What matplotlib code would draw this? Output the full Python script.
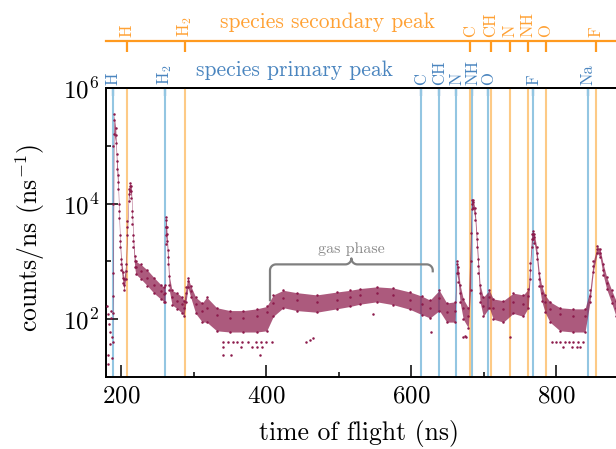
import numpy as np
import matplotlib
matplotlib.use("Agg")
import matplotlib.pyplot as plt
from matplotlib.ticker import FixedLocator, FuncFormatter, NullFormatter
from matplotlib.lines import Line2D

plt.rcParams['font.family'] = ['cmr10', 'DejaVu Serif']
plt.rcParams['mathtext.fontset'] = 'cm'
plt.rcParams['axes.formatter.use_mathtext'] = True
plt.rcParams['axes.unicode_minus'] = False

# ---------------- data ----------------
tof = [188.5, 189.5, 190.3, 192.7, 194.1, 195.9, 197.2, 198.6, 200.4, 202.8,
       204.1, 206.5, 208.7, 210.6, 212.4, 214.2, 215.6, 217.0, 218.9, 220.3,
       227.2, 236.3, 245.5, 254.8, 259.3, 260.8, 261.4, 262.5, 263.0, 264.8,
       266.6, 270.3, 277.7, 284.6, 286.9, 289.7, 292.4, 296.1, 303.0, 312.1,
       318.2, 332.0, 350.3, 368.7, 387.2, 401.0, 410.1, 423.9, 442.3, 469.9,
       497.5, 515.9, 529.7, 552.7, 575.6, 598.6, 614.8, 626.2, 639.0, 649.2,
       660.7, 663.0, 665.2, 667.6, 672.1, 679.0, 682.1, 683.7, 685.9, 688.3,
       690.6, 692.8, 695.2, 699.7, 708.0, 713.5, 727.3, 741.1, 754.9, 761.8,
       764.1, 766.5, 767.8, 770.0, 773.3, 776.9, 780.2, 784.8, 791.7, 805.5,
       823.9, 840.0, 846.9, 851.4, 856.9, 860.7, 865.2, 869.9, 876.8, 882.8,
       895.0]
counts_mid = [126, 10000, 281800, 154900, 53700, 23990, 7410, 2240, 891, 525,
              398, 676, 3890, 14450, 19950, 16220, 5750, 2240, 1000, 794,
              676, 525, 398, 309, 269, 282, 3980, 3980, 2950, 1175,
              398, 240, 209, 182, 158, 282, 457, 309, 182, 138,
              158, 120, 107, 107, 115, 132, 191, 229, 214, 195,
              219, 240, 263, 282, 263, 219, 186, 158, 229, 132,
              141, 891, 631, 288, 158, 115, 1000, 10000, 10470, 6920,
              2400, 832, 288, 170, 240, 158, 148, 200, 186, 251,
              724, 2400, 2950, 2630, 1410, 490, 288, 195, 148, 123,
              115, 115, 251, 832, 1660, 1410, 724, 427, 251, 158,
              126]
counts_lo = [40, 631, 158500, 112200, 39810, 17780, 5620, 1780, 708, 417,
             316, 501, 2820, 11220, 16600, 12590, 4470, 1780, 794, 603,
             501, 380, 282, 224, 200, 200, 2000, 2820, 2240, 891,
             316, 178, 151, 126, 112, 200, 355, 240, 126, 89,
             89, 63, 60, 60, 60, 63, 112, 158, 141, 132,
             151, 166, 182, 200, 178, 148, 120, 105, 141, 89,
             89, 631, 447, 200, 100, 71, 316, 7940, 8320, 5250,
             1780, 631, 200, 112, 158, 100, 89, 126, 112, 158,
             501, 1780, 2400, 2090, 1120, 380, 209, 132, 89, 63,
             60, 60, 200, 661, 1410, 1175, 575, 331, 191, 112,
             89]
counts_hi = [251, 100000, 354800, 199500, 70800, 31620, 10000, 2820, 1120, 661,
             501, 891, 5010, 17780, 22390, 19950, 7590, 2820, 1260, 1000,
             891, 708, 525, 398, 355, 398, 5750, 5250, 3980, 1585,
             562, 316, 282, 240, 209, 355, 525, 380, 240, 191,
             240, 158, 141, 141, 151, 166, 263, 316, 288, 263,
             295, 316, 339, 363, 347, 295, 251, 214, 316, 191,
             200, 1000, 794, 398, 224, 158, 3160, 11480, 11480, 8320,
             3160, 1120, 398, 240, 316, 224, 209, 282, 263, 331,
             955, 3020, 3310, 3020, 1780, 631, 380, 263, 200, 158,
             151, 151, 316, 1000, 1820, 1660, 891, 537, 316, 209,
             166]

sparse_tof = [180.6, 181.5, 182.0, 182.7, 183.4, 184.2, 184.8, 185.6, 186.3, 187.0, 187.4,
              340.7, 348.0, 354.0, 360.0, 366.4, 375.6, 385.8, 392.7, 400.0, 408.7, 455.0,
              340.7, 365.0, 380.0, 388.0, 394.0, 340.7, 352.0, 392.0,
              461.0, 465.5, 548.0, 627.6, 672.0, 674.0, 676.0, 736.6,
              794.0, 800.0, 806.0, 812.0, 818.0, 824.0, 830.0, 837.0,
              809.0, 821.6, 829.0, 833.0]
sparse_counts = [170, 123, 17, 24, 81, 59, 37, 140, 107, 49, 21,
                 40, 40, 40, 40, 40, 40, 40, 40, 40, 40, 40,
                 33, 33, 33, 33, 33, 24, 24, 24,
                 43, 48, 123, 60, 49, 51, 49, 49,
                 40, 40, 40, 40, 40, 40, 40, 40,
                 33, 33, 33, 33]

primary_species = ['H', 'H$_2$', 'C', 'CH', 'N', 'NH', 'O', 'F', 'Na']
primary_tof = [188.6, 260.7, 614.2, 638.6, 662.5, 684.6, 706.6, 768.7, 844.1]
secondary_species = ['H', 'H$_2$', 'C', 'CH', 'N', 'NH', 'O', 'F']
secondary_tof = [208.3, 288.3, 681.8, 710.0, 736.1, 761.4, 785.8, 855.2]

gas_phase_range = (405.5, 630.0)
gas_phase_level = 888
gas_phase_ends = (204, 646)
gas_phase_text_y = 1410

x_ticks = [200, 400, 600, 800]
x_minor = [300, 500, 700]
y_ticks = [1e2, 1e4, 1e6]
y_minor = [1e1, 1e3, 1e5]

# ---------------- style ----------------
maroon = '#8C1A4B'
blue_line = '#93C6E2'
blue_dark = '#3A7DB8'
blue_text = '#4A85BF'
orange_line = '#FDCA86'
orange_axis = '#FF9A1F'
orange_text = '#FFA134'
gray = '#7f7f7f'

W, H = 616, 449
fig = plt.figure(figsize=(W / 100, H / 100), dpi=100)
ax_w_px = (900 - 179.3) * 0.725
ax = fig.add_axes([106 / W, 72 / H, ax_w_px / W, 289 / H])
ax.set_xlim(179.3, 900)
ax.set_yscale('log')
ax.set_ylim(10, 1e6)

for t in primary_tof:
    ax.axvline(t, color=blue_line, lw=1.5, zorder=1)
for t in secondary_tof:
    ax.axvline(t, color=orange_line, lw=1.5, zorder=1)

ax.fill_between(tof, counts_lo, counts_hi, color=maroon, alpha=0.72, lw=0, zorder=2)
ax.plot(tof, counts_mid, 'o', ms=1.8, mew=0, color=maroon, zorder=3)
ax.plot(tof, counts_lo, 'o', ms=1.8, mew=0, color=maroon, zorder=3)
ax.plot(tof, counts_hi, 'o', ms=1.8, mew=0, color=maroon, zorder=3)
ax.plot(sparse_tof, sparse_counts, 'o', ms=1.8, mew=0, color=maroon, zorder=3)

# ticks
ax.xaxis.set_major_locator(FixedLocator(x_ticks))
ax.xaxis.set_minor_locator(FixedLocator(x_minor))
ax.yaxis.set_major_locator(FixedLocator(y_ticks))
ax.yaxis.set_minor_locator(FixedLocator(y_minor))
ax.yaxis.set_major_formatter(FuncFormatter(lambda v, p: r'$10^{%d}$' % round(np.log10(v))))
ax.yaxis.set_minor_formatter(NullFormatter())
ax.tick_params(which='major', direction='in', length=8.5, width=1.1, labelsize=18, top=False, right=False)
ax.tick_params(which='minor', direction='in', length=3.6, width=1.1, top=False, right=False)
ax.tick_params(axis='x', which='major', pad=6)
ax.tick_params(axis='y', which='major', pad=5)
for s in ax.spines.values():
    s.set_linewidth(1.4)
ax.spines['right'].set_visible(False)

ax.set_xlabel('time of flight (ns)', fontsize=18.5)
ax.xaxis.set_label_coords((359 - 106) / ax_w_px, (377 - 420) / 289)
ax.set_ylabel(r'counts/ns (ns$^{\mathrm{-1}}$)', fontsize=18.5)
ax.yaxis.set_label_coords((30 - 106) / ax_w_px, 0.48)
ax.yaxis.label.set_va('center')

# primary species axis (top spine)
sec1 = ax.secondary_xaxis('top')
sec1.xaxis.set_major_locator(FixedLocator(primary_tof))
sec1.set_xticklabels(primary_species)
sec1.tick_params(direction='in', length=5.5, width=1.6, color=blue_dark,
                 labelcolor=blue_text, labelsize=12, labelrotation=90, pad=2)
sec1.spines['top'].set_linewidth(1.4)

# secondary species axis (orange)
sec2 = ax.secondary_xaxis(1 + (88 - 40.7) / 289)
sec2.xaxis.set_major_locator(FixedLocator(secondary_tof))
sec2.set_xticklabels(secondary_species)
sec2.spines['top'].set_color(orange_axis)
sec2.spines['top'].set_linewidth(1.6)
sec2.tick_params(direction='in', length=8, width=1.6, color=orange_axis,
                 labelcolor=orange_text, labelsize=12, labelrotation=90, pad=3)

fig.text(196 / W, 1 - 76 / H, 'species primary peak', color=blue_text,
         fontsize=15.5, ha='left', va='baseline')
fig.text(220 / W, 1 - 28.3 / H, 'species secondary peak', color=orange_text,
         fontsize=15.5, ha='left', va='baseline')

# gas phase brace
def to_axes(t, c):
    return ax.transAxes.inverted().transform(ax.transData.transform((t, c)))

xl, ylb = to_axes(gas_phase_range[0], gas_phase_ends[0])
xr, yrb = to_axes(gas_phase_range[1], gas_phase_ends[1])
_, yh = to_axes(gas_phase_range[0], gas_phase_level)
xc = 0.5 * (xl + xr)
rx, ry = 6 / ax_w_px, 6 / 289

def arc(cx, cy, a0, a1, n=12):
    a = np.radians(np.linspace(a0, a1, n))
    return cx + rx * np.cos(a), cy + ry * np.sin(a)

segs_x, segs_y = [xl], [ylb]
for cx, cy, a0, a1 in [(xl + rx, yh - ry, 180, 90),
                       (xc - rx, yh + ry, 270, 360),
                       (xc + rx, yh + ry, 180, 270),
                       (xr - rx, yh - ry, 90, 0)]:
    ax_, ay_ = arc(cx, cy, a0, a1)
    segs_x.extend(ax_)
    segs_y.extend(ay_)
segs_x.append(xr)
segs_y.append(yrb)
ax.add_line(Line2D(segs_x, segs_y, transform=ax.transAxes, color=gray, lw=1.6,
                   solid_capstyle='butt', zorder=4))
ax.text(0.5 * sum(gas_phase_range), gas_phase_text_y, 'gas phase', color='#8a8a8a',
        fontsize=11.5, ha='center', va='baseline', zorder=4)

fig.savefig('out.png', dpi=100)
